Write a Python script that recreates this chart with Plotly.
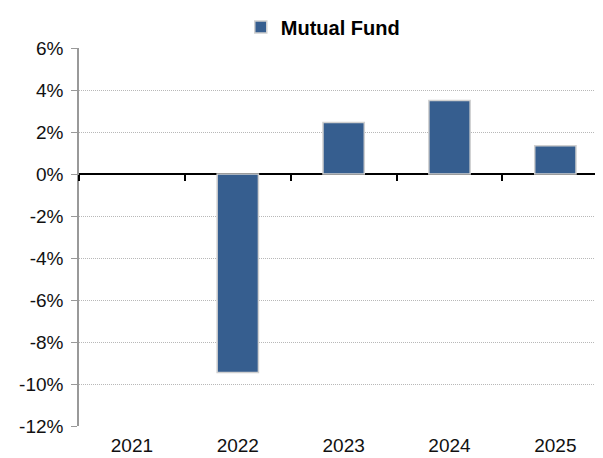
import plotly.graph_objects as go

years = ["2021", "2022", "2023", "2024", "2025"]
mutual_fund = [None, -9.45, 2.45, 3.5, 1.35]
y_ticks = [6, 4, 2, 0, -2, -4, -6, -8, -10, -12]
y_tick_labels = [f"{v}%" for v in y_ticks]

FONT = "Liberation Sans, Arial, sans-serif"

fig = go.Figure()
fig.add_trace(go.Bar(
    x=years, y=mutual_fund, name="Mutual Fund",
    marker=dict(color="#365E8F", line=dict(color="#d0d0d0", width=1.5)),
    width=0.39,
))
# invisible trace carrying the tick marks along the zero line
fig.add_trace(go.Scatter(
    x=years, y=[0] * len(years), xaxis="x2", mode="markers",
    marker=dict(opacity=0), showlegend=False, hoverinfo="skip",
))

xrange = [-0.5, 4.45]

fig.update_layout(
    width=603, height=458,
    margin=dict(l=71, r=8, t=40, b=40, autoexpand=False),
    plot_bgcolor="white", paper_bgcolor="white",
    font=dict(family=FONT, size=19, color="#111"),
    showlegend=True,
    legend=dict(orientation="h", xref="container", x=0.386, xanchor="left",
                yref="container", y=1 - 19 / 458, yanchor="middle",
                font=dict(size=20, family=FONT, color="#000", weight="bold"),
                itemwidth=30, tracegroupgap=0),
    xaxis=dict(type="category", categoryorder="array", categoryarray=years,
               range=xrange, showgrid=False, ticks="", showline=False,
               zeroline=False, automargin=False, ticklabelstandoff=6,
               tickfont=dict(size=19, color="#111")),
    xaxis2=dict(type="category", categoryorder="array", categoryarray=years,
                range=xrange, overlaying="x", anchor="free", position=12 / 18,
                side="bottom", showticklabels=False, ticks="outside", ticklen=6,
                tickwidth=1.5, tickcolor="#000", tickson="boundaries",
                showgrid=False, showline=False, zeroline=False),
    yaxis=dict(range=[-12, 6], tickvals=y_ticks, ticktext=y_tick_labels,
               showgrid=True, gridcolor="#b8b8b8", griddash="1px,1px", gridwidth=1,
               zeroline=True, zerolinecolor="#000", zerolinewidth=2,
               showline=True, linecolor="#999", linewidth=1.5,
               ticks="outside", ticklen=6, tickcolor="#999",
               automargin=False, ticklabelstandoff=4,
               tickfont=dict(size=19, color="#111")),
)

fig.write_html("out.html")
